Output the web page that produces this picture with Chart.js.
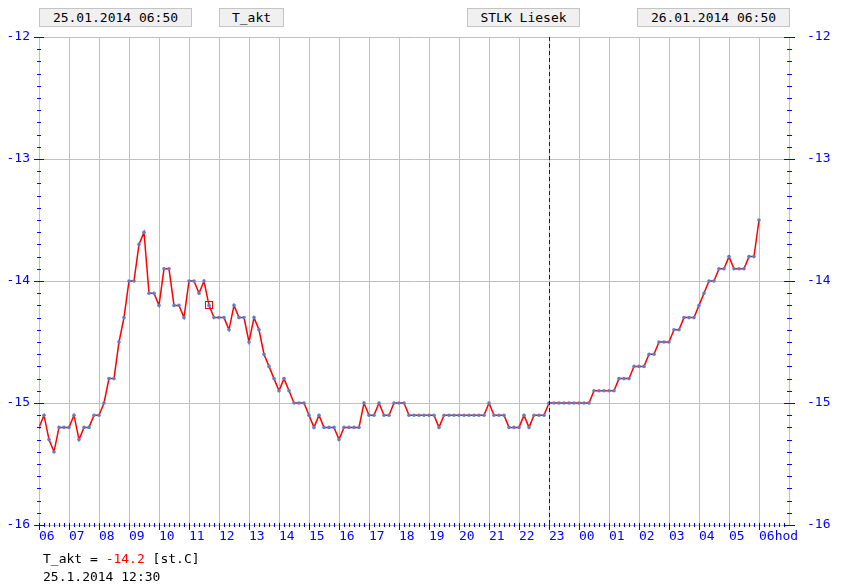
<!DOCTYPE html>
<html>
<head>
<meta charset="utf-8">
<script src="https://cdn.jsdelivr.net/npm/chart.js@4"></script>
<style>
  body { margin: 0; background: #fff; }
  #wrap { position: relative; width: 844px; height: 587px; }
  canvas { position: absolute; left: 0; top: 0; }
  .box {
    position: absolute; top: 8px; height: 17px;
    background: #f0f0f0; border: 1px solid #c4c4c4;
    font: 13px "DejaVu Sans Mono", monospace; color: #000;
    text-align: center; line-height: 17px;
  }
  .info {
    position: absolute; left: 43px;
    font: 13px "DejaVu Sans Mono", monospace; color: #000;
    white-space: pre;
  }
  .info .val { color: #ff0000; }
</style>
</head>
<body>
<div id="wrap">
  <canvas id="chart" width="844" height="587"></canvas>
  <div class="box" id="boxStart" style="left:39px;width:151px"></div>
  <div class="box" id="boxName" style="left:219px;width:63px"></div>
  <div class="box" id="boxStation" style="left:467px;width:111px"></div>
  <div class="box" id="boxEnd" style="left:637px;width:151px"></div>
  <div class="info" id="infoValue" style="top:551px"></div>
  <div class="info" id="infoTime" style="top:569px"></div>
</div>
<script>
const startLabel = "25.01.2014 06:50";
const endLabel = "26.01.2014 06:50";
const seriesName = "T_akt";
const stationName = "STLK Liesek";
const unitLabel = "[st.C]";

// hour labels for each grid line (one per 60 minutes)
const hourLabels = ["06", "07", "08", "09", "10", "11", "12", "13", "14", "15", "16", "17",
  "18", "19", "20", "21", "22", "23", "00", "01", "02", "03", "04", "05", "06hod"];
const yTicks = [-16, -15, -14, -13, -12];

// one reading every 10 minutes
const stepMinutes = 10;
const temps = [
  -15.2, -15.1, -15.3, -15.4, -15.2, -15.2, -15.2, -15.1, -15.3, -15.2,
  -15.2, -15.1, -15.1, -15.0, -14.8, -14.8, -14.5, -14.3, -14.0, -14.0,
  -13.7, -13.6, -14.1, -14.1, -14.2, -13.9, -13.9, -14.2, -14.2, -14.3,
  -14.0, -14.0, -14.1, -14.0, -14.2, -14.3, -14.3, -14.3, -14.4, -14.2,
  -14.3, -14.3, -14.5, -14.3, -14.4, -14.6, -14.7, -14.8, -14.9, -14.8,
  -14.9, -15.0, -15.0, -15.0, -15.1, -15.2, -15.1, -15.2, -15.2, -15.2,
  -15.3, -15.2, -15.2, -15.2, -15.2, -15.0, -15.1, -15.1, -15.0, -15.1,
  -15.1, -15.0, -15.0, -15.0, -15.1, -15.1, -15.1, -15.1, -15.1, -15.1,
  -15.2, -15.1, -15.1, -15.1, -15.1, -15.1, -15.1, -15.1, -15.1, -15.1,
  -15.0, -15.1, -15.1, -15.1, -15.2, -15.2, -15.2, -15.1, -15.2, -15.1,
  -15.1, -15.1, -15.0, -15.0, -15.0, -15.0, -15.0, -15.0, -15.0, -15.0,
  -15.0, -14.9, -14.9, -14.9, -14.9, -14.9, -14.8, -14.8, -14.8, -14.7,
  -14.7, -14.7, -14.6, -14.6, -14.5, -14.5, -14.5, -14.4, -14.4, -14.3,
  -14.3, -14.3, -14.2, -14.1, -14.0, -14.0, -13.9, -13.9, -13.8, -13.9,
  -13.9, -13.9, -13.8, -13.8, -13.5
];

const markIndex = 34;          // cursor at 12:30
const markTime = "25.1.2014 12:30";
const dashedAtMinutes = 1020;  // dashed day marker

const AXIS_BLUE = "#0000ff";
const GRID = "#c0c0c0";
const FONT = { family: "DejaVu Sans Mono", size: 13 };

document.getElementById("boxStart").textContent = startLabel;
document.getElementById("boxName").textContent = seriesName;
document.getElementById("boxStation").textContent = stationName;
document.getElementById("boxEnd").textContent = endLabel;
document.getElementById("infoValue").innerHTML =
  seriesName + ' = <span class="val">' + temps[markIndex].toFixed(1) + "</span> " + unitLabel;
document.getElementById("infoTime").textContent = markTime;

const points = temps.map((v, i) => ({ x: i * stepMinutes, y: v }));
const xMax = hourLabels.length * 60;

// small blue tick marks on all axes, dashed marker line, cursor box
const ticksPlugin = {
  id: "ticks",
  afterDraw(chart) {
    const { ctx, chartArea: a, scales } = chart;
    const x = scales.x, y = scales.y;
    ctx.save();
    ctx.strokeStyle = AXIS_BLUE;
    ctx.lineWidth = 1;

    // dashed line
    const dx = Math.round(x.getPixelForValue(dashedAtMinutes)) + 0.5;
    ctx.setLineDash([4, 3]);
    ctx.beginPath();
    ctx.moveTo(dx, a.top);
    ctx.lineTo(dx, a.bottom);
    ctx.stroke();
    ctx.setLineDash([]);

    ctx.beginPath();
    for (let k = -160; k <= -120; k++) {
      const py = Math.round(y.getPixelForValue(k / 10)) + 0.5;
      const major = k % 10 === 0;
      const l = Math.round(a.left), r = Math.round(a.right);
      ctx.moveTo(l - (major ? 5 : 2), py);
      ctx.lineTo(l + (major ? 5 : 2), py);
      ctx.moveTo(r - (major ? 5 : 2), py);
      ctx.lineTo(r + (major ? 6 : 3), py);
    }
    for (let m = 0; m < xMax; m += stepMinutes) {
      const px = Math.round(x.getPixelForValue(m)) + 0.5;
      const major = m % 60 === 0;
      const b = Math.round(a.bottom);
      ctx.moveTo(px, b - 2);
      ctx.lineTo(px, b + (major ? 5 : 2));
    }
    ctx.stroke();

    // cursor square, pixel-aligned
    const cx = Math.round(x.getPixelForValue(points[markIndex].x));
    const cy = Math.round(y.getPixelForValue(points[markIndex].y));
    ctx.strokeStyle = "#ff0000";
    ctx.strokeRect(cx - 3.5, cy - 3.5, 7, 7);
    ctx.restore();
  }
};

new Chart(document.getElementById("chart"), {
  type: "line",
  data: {
    datasets: [
      {
        label: seriesName,
        data: points,
        borderColor: "#ff0000",
        borderWidth: 1.5,
        tension: 0,
        pointRadius: 1.8,
        pointBorderWidth: 0,
        pointBackgroundColor: "#5b7fc9",
      },
    ],
  },
  options: {
    responsive: false,
    animation: false,
    layout: { padding: { top: 37, left: 0, right: 0, bottom: 0 } },
    plugins: { legend: { display: false }, tooltip: { enabled: false } },
    scales: {
      x: {
        type: "linear",
        min: 0,
        max: xMax,
        afterFit: (s) => { s.height = 62; },
        afterBuildTicks: (s) => {
          s.ticks = [];
          for (let m = 0; m <= xMax; m += 60) s.ticks.push({ value: m });
        },
        ticks: {
          autoSkip: false,
          maxRotation: 0,
          align: "start",
          padding: 4,
          color: AXIS_BLUE,
          font: FONT,
          callback: (v) => hourLabels[v / 60] ?? "",
        },
        grid: { color: GRID, drawTicks: false },
        border: { color: GRID },
      },
      y: {
        position: "left",
        min: -16,
        max: -12,
        afterFit: (s) => { s.width = 39; },
        afterBuildTicks: (s) => { s.ticks = yTicks.map((v) => ({ value: v })); },
        ticks: { color: AXIS_BLUE, font: FONT, padding: 9 },
        grid: { color: GRID, drawTicks: false },
        border: { color: GRID },
      },
      y2: {
        position: "right",
        min: -16,
        max: -12,
        afterFit: (s) => { s.width = 55; },
        afterBuildTicks: (s) => { s.ticks = yTicks.map((v) => ({ value: v })); },
        ticks: { color: AXIS_BLUE, font: FONT, padding: 18 },
        grid: { drawOnChartArea: false, drawTicks: false },
        border: { color: GRID },
      },
    },
  },
  plugins: [ticksPlugin],
});
</script>
</body>
</html>
